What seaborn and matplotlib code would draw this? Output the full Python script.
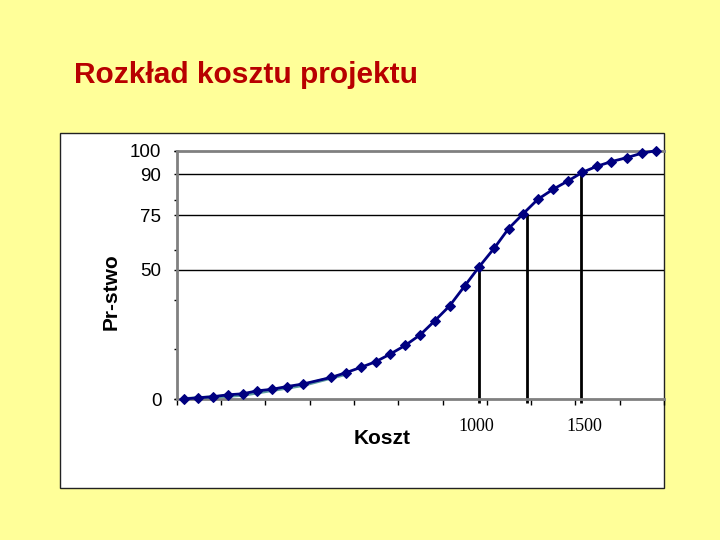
import matplotlib
matplotlib.use("Agg")
import matplotlib.pyplot as plt
from matplotlib.patches import Rectangle
import seaborn as sns

# Dane (koszt w jednostkach osi, prawdopodobienstwo w %)
koszt = [16, 49, 81, 116, 149, 182, 215, 248, 284, 349, 382, 415, 449, 482, 516, 550,
         582, 616, 650, 683, 717, 749, 782, 815, 850, 883, 916, 948, 981, 1016, 1050, 1082]
prawd = [0, 0.5, 0.9, 1.7, 2.1, 3.3, 3.9, 5.0, 6.0, 8.7, 10.6, 12.7, 15.0, 18.1, 21.6, 25.9,
         31.4, 37.5, 45.5, 53.3, 60.8, 68.6, 74.6, 80.4, 84.5, 87.8, 91.3, 93.7, 95.6, 97.2, 99.0, 100.0]

# druga (turkusowa) seria pod krzywa
teal_x = [14, 149, 284, 375]
teal_y = [0, 1.6, 5.5, 9.7]

# poziomy i odczyty kosztu
level_pos = [52, 74, 90.5]
vline_x = [683, 791, 913.5]
vline_top = [52, 74.6, 91.3]

y_label_pos = [0, 52, 74, 90.5, 100]
y_labels = ["0", "50", "75", "90", "100"]
x_label_pos = [676, 920]
x_labels = ["1000", "1500"]

TITLE = "Rozkład kosztu projektu"
YELLOW = "#ffff99"
NAVY = "#000080"

sns.set_style("white")
plt.rcParams["font.family"] = ["Liberation Sans", "DejaVu Sans"]
plt.rcParams["text.color"] = "black"
plt.rcParams["axes.labelcolor"] = "black"
plt.rcParams["xtick.color"] = "black"
plt.rcParams["ytick.color"] = "black"

fig = plt.figure(figsize=(7.2, 5.4), dpi=100, facecolor=YELLOW)

# biale pole wykresu
fig.add_artist(Rectangle((60 / 720, 52 / 540), 604 / 720, 355 / 540,
                         transform=fig.transFigure, facecolor="white",
                         edgecolor="#222222", lw=1, zorder=0))

fig.text(74 / 720, 1 - 75 / 540, TITLE, color="#b80000", fontsize=21.5,
         fontweight="bold", ha="left", va="center")

ax = fig.add_axes([176.7 / 720, 141 / 540, 487.3 / 720, 248.3 / 540])
ax.set_facecolor("none")

for y in level_pos:
    ax.axhline(y, color="black", lw=1, zorder=1)

ax.vlines(vline_x, -1.5, vline_top, color="black", lw=2, zorder=2, clip_on=False)

sns.lineplot(x=teal_x, y=teal_y, color="#5f9ea0", lw=2.5, ax=ax, zorder=3)
sns.lineplot(x=koszt, y=prawd, color=NAVY, lw=2, marker="D", markersize=5.5,
             markeredgecolor=NAVY, ax=ax, zorder=4, clip_on=False)

ax.set_xlim(0, 1097)
ax.set_ylim(0, 100)

ax.xaxis.remove_overlapping_locs = False
ax.yaxis.remove_overlapping_locs = False
ax.set_xticks(range(0, 1101, 100))
ax.set_xticklabels([])
ax.set_xticks(x_label_pos, labels=x_labels, minor=True)
ax.set_yticks(range(0, 101, 20))
ax.set_yticklabels([])
ax.set_yticks(y_label_pos, labels=y_labels, minor=True)

ax.tick_params(axis="x", which="major", direction="out", length=4.5, width=1,
               color="black", bottom=True)
ax.tick_params(axis="x", which="minor", length=0, pad=13.5, labelsize=13,
               labelcolor="black", bottom=True)
ax.tick_params(axis="y", which="major", direction="out", length=2.5, width=1,
               color="black", left=True)
ax.tick_params(axis="y", which="minor", direction="out", length=2.5, width=1,
               color="black", pad=8.5, labelsize=13.5, labelcolor="black", left=True)
for lab in ax.get_xticklabels(minor=True):
    lab.set_family(["Liberation Serif", "DejaVu Serif"])

for side in ["left", "bottom", "top"]:
    ax.spines[side].set_visible(True)
    ax.spines[side].set_color("#808080")
    ax.spines[side].set_linewidth(2)
ax.spines["right"].set_visible(False)

ax.set_xlabel("Koszt", fontsize=15, fontweight="bold", color="black")
ax.xaxis.set_label_coords(0.4207, -0.12)
ax.set_ylabel("Pr-stwo", fontsize=15, fontweight="bold", color="black")
ax.yaxis.set_label_coords(-0.116, 0.431)

plt.savefig("out.png", dpi=100, facecolor=YELLOW)
